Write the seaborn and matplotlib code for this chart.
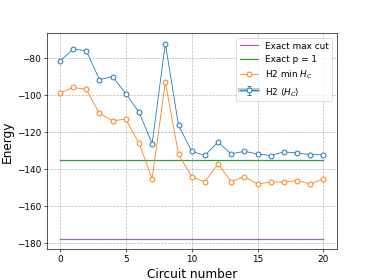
import numpy as np
import pandas as pd
import matplotlib
matplotlib.use("Agg")
import matplotlib.pyplot as plt
from matplotlib.lines import Line2D
from matplotlib.legend_handler import HandlerTuple
import seaborn as sns

plt.rcParams["font.size"] = 11

# circuit index 0..20
circuits = list(range(21))

# H2 <H_C> (mean energy per circuit)
h2_mean = [-81.6, -75.1, -76.0, -91.6, -90.0, -99.2, -109.2, -126.2, -72.1, -116.3,
           -130.4, -132.6, -125.5, -131.8, -130.4, -131.8, -132.7, -130.7, -131.3,
           -132.2, -132.2]
h2_err = [0.3] * 21

# H2 min H_C
h2_min = [-98.9, -95.8, -96.9, -109.9, -113.9, -113.0, -126.0, -145.2, -92.9, -132.0,
          -144.1, -146.8, -137.3, -146.8, -144.1, -148.1, -147.0, -147.0, -146.2,
          -148.1, -145.2]

exact_max_cut = -178.0
exact_p1 = -135.0

df = pd.DataFrame({"circuit": circuits, "mean": h2_mean, "min": h2_min})
ref_x = [circuits[0], circuits[-1]]

fig, ax = plt.subplots(figsize=(6.4, 4.8), dpi=374 / 6.4)

sns.lineplot(x=ref_x, y=[exact_max_cut] * 2, color="C4", lw=1.5, label="Exact max cut", ax=ax)
sns.lineplot(x=ref_x, y=[exact_p1] * 2, color="C2", lw=1.5, label="Exact p = 1", ax=ax)
sns.lineplot(data=df, x="circuit", y="min", color="C1", lw=1, marker="o", ms=6,
             mfc="white", mec="C1", mew=1.2, label="H2 min $H_C$", ax=ax)
err = ax.errorbar(df["circuit"], df["mean"], yerr=h2_err, fmt="o-", color="C0", lw=1, ms=6,
                  mfc="white", mec="C0", mew=1.2, capsize=3, ecolor="C0")

ax.grid(True, linestyle="--", color="#b0b0b0")
ax.set_xticks([0, 5, 10, 15, 20])
ax.set_xlabel("Circuit number", fontsize=15)
ax.set_ylabel("Energy", fontsize=15)

handles, labels = ax.get_legend_handles_labels()
band = Line2D([], [], color="#a9cce8", lw=5)
handles = handles[:3] + [(band, err)]
labels = labels[:3] + [r"H2 $\langle H_C \rangle$"]
ax.legend(handles, labels, loc="upper right",
          handler_map={tuple: HandlerTuple(ndivide=1)})

plt.savefig("out.png")
